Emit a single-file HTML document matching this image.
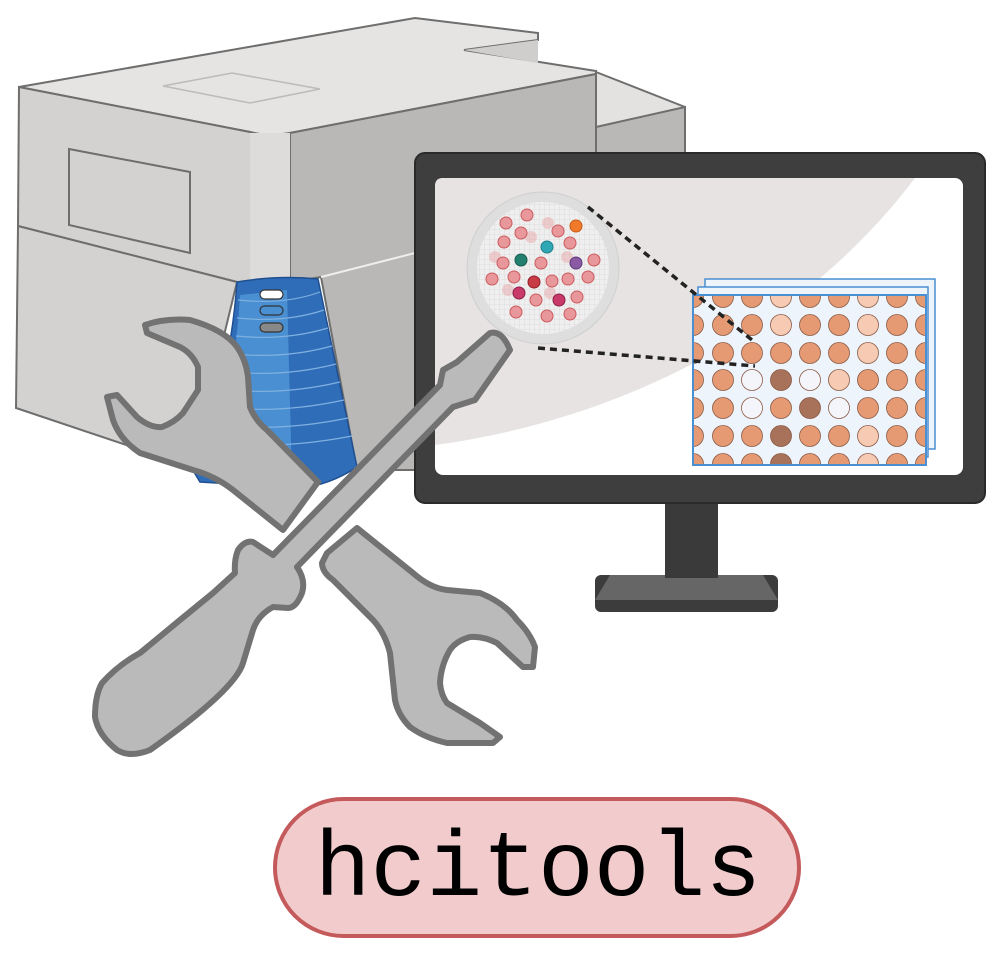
<!DOCTYPE html>
<html><head><meta charset="utf-8"><style>html,body{margin:0;padding:0;background:#fff}svg{display:block}</style></head>
<body>
<svg width="997" height="954" viewBox="0 0 997 954" xmlns="http://www.w3.org/2000/svg">
<!-- machine back block -->
<polygon points="596,72 685,107 685,153 596,127" fill="#e4e2e1" stroke="#6e6e6e" stroke-width="2"/>
<polygon points="596,127 685,107 685,470 596,470" fill="#b9b8b7" stroke="#6e6e6e" stroke-width="2"/>
<!-- top face -->
<path d="M19,87 L415,18 L538,33 L538,40 L464,50 L596,71 L596,74 L290,133 Q268,137 250,132 Z" fill="#e6e4e3" stroke="#6e6e6e" stroke-width="2"/>
<polygon points="464,50 538,40 538,63" fill="#d0cecd"/>
<polygon points="163,86 232,73 320,89 250,103" fill="none" stroke="#bdbbba" stroke-width="1.5"/>
<!-- right face -->
<path d="M290,133 L596,74 L596,470 L357,470 L321,277 L290,282 Z" fill="#b9b8b7" stroke="#6e6e6e" stroke-width="2"/>
<!-- left face -->
<path d="M19,87 L250,132 Q268,137 290,133 L290,282 L237,282 L18,226 Z" fill="#d4d2d1" stroke="#6e6e6e" stroke-width="2"/>
<rect x="250" y="133" width="40" height="148" fill="#dedcdb"/>
<path d="M18,226 L237,282 L192,467 L16,408 Z" fill="#d4d2d1" stroke="#6e6e6e" stroke-width="2"/>
<path d="M321,277 L415,253" stroke="#eee" stroke-width="2"/>
<polygon points="69,149 190,172 190,253 69,225" fill="#d4d2d1" stroke="#6e6e6e" stroke-width="2"/>
<!-- blue panel -->
<path d="M237,282 Q278,275 318,279 L357,467 Q330,485 300,488 L200,482 L194,472 Q230,380 237,282 Z" fill="#2f6db9" stroke="#1f4f8f" stroke-width="1.5"/>
<path d="M240,295 L287,290 L292,480 L205,476 Q235,390 240,295 Z" fill="#4a8fd2"/>
<g stroke="#7fb0e0" stroke-width="1.2" fill="none">
<path d="M238,300 Q285,305 320,292"/><path d="M237,318 Q285,323 324,310"/><path d="M236,336 Q285,341 328,328"/><path d="M234,354 Q285,359 332,346"/><path d="M232,372 Q285,377 336,364"/><path d="M230,390 Q285,395 340,382"/><path d="M228,408 Q285,413 344,400"/><path d="M226,426 Q285,431 348,418"/><path d="M222,444 Q285,449 352,436"/>
</g>
<rect x="260" y="290" width="23" height="9" rx="4.5" fill="#fff" stroke="#333" stroke-width="1.2"/>
<rect x="260" y="306" width="23" height="9" rx="4.5" fill="#4a8fd2" stroke="#333" stroke-width="1.2"/>
<rect x="260" y="323" width="23" height="9" rx="4.5" fill="#888" stroke="#333" stroke-width="1.2"/>
<!-- monitor -->
<rect x="595" y="575" width="183" height="37" rx="6" fill="#3c3c3c"/>
<polygon points="610,575 763,575 778,600 595,600" fill="#666"/>
<rect x="665" y="498" width="53" height="80" fill="#3a3a3a"/>
<rect x="415" y="153" width="570" height="350" rx="10" fill="#3e3e3e" stroke="#2a2a2a" stroke-width="2"/>
<rect x="435" y="178" width="528" height="297" rx="8" fill="#fff"/>
<path d="M443,178 H915 C800,330 620,420 435,445 V186 Q435,178 443,178 Z" fill="#e6e3e2"/>
<!-- petri dish -->
<defs>
<pattern id="g" width="5" height="5" patternUnits="userSpaceOnUse"><path d="M5,0 V5 H0" fill="none" stroke="#cfcfcf" stroke-width="0.6"/></pattern>
</defs>
<circle cx="543" cy="268" r="76" fill="#dededf" stroke="#cfcfd0"/>
<circle cx="543" cy="268" r="66" fill="#efefef"/>
<circle cx="543" cy="268" r="66" fill="url(#g)"/>
<g fill="#e8a0a2" opacity="0.45">
<circle cx="548" cy="223" r="6"/><circle cx="531" cy="237" r="6"/><circle cx="495" cy="257" r="6"/><circle cx="567" cy="257" r="6"/><circle cx="508" cy="290" r="6"/><circle cx="550" cy="293" r="6"/>
</g>
<g fill="#e8989a" stroke="#cc5a5f" stroke-width="1">
<circle cx="527" cy="215" r="6"/><circle cx="506" cy="223" r="6"/><circle cx="521" cy="233" r="6"/><circle cx="558" cy="231" r="6"/><circle cx="504" cy="242" r="6"/><circle cx="570" cy="243" r="6"/><circle cx="503" cy="263" r="6"/><circle cx="541" cy="263" r="6"/><circle cx="594" cy="260" r="6"/><circle cx="492" cy="279" r="6"/><circle cx="514" cy="277" r="6"/><circle cx="552" cy="281" r="6"/><circle cx="568" cy="279" r="6"/><circle cx="588" cy="277" r="6"/><circle cx="536" cy="300" r="6"/><circle cx="577" cy="297" r="6"/><circle cx="516" cy="312" r="6"/><circle cx="547" cy="316" r="6"/><circle cx="570" cy="314" r="6"/>
</g>
<circle cx="576" cy="226" r="6" fill="#f07a2a" stroke="#c95a15"/>
<circle cx="547" cy="247" r="6" fill="#2fa7b5" stroke="#1e7f8a"/>
<circle cx="521" cy="260" r="6" fill="#24806e" stroke="#175a4d"/>
<circle cx="576" cy="263" r="6" fill="#8a5aa5" stroke="#603a7a"/>
<circle cx="534" cy="282" r="6" fill="#c83c45" stroke="#902028"/>
<circle cx="519" cy="293" r="6" fill="#c83a6a" stroke="#8e2048"/>
<circle cx="559" cy="300" r="6" fill="#c83a6a" stroke="#8e2048"/>
<!-- plates -->
<rect x="705" y="279" width="230" height="170" fill="#eef4fb" stroke="#4a8fd2" stroke-width="1.5"/>
<rect x="698" y="287" width="230" height="170" fill="#eef4fb" stroke="#4a8fd2" stroke-width="1.5"/>
<svg x="693" y="295" width="233" height="170" overflow="hidden">
<rect x="0" y="0" width="233" height="170" fill="#eef4fb"/>
<g stroke="#8a5a45" stroke-width="0.8" id="cells">
</g>
<g stroke="#8a5a45" stroke-width="0.8">
<!-- generated rows -->
<g fill="#e59a73">
<circle cx="0" cy="2" r="10.5"/><circle cx="30" cy="2" r="10.5"/><circle cx="59" cy="2" r="10.5"/><circle cx="117" cy="2" r="10.5"/><circle cx="146" cy="2" r="10.5"/><circle cx="204" cy="2" r="10.5"/><circle cx="233" cy="2" r="10.5"/>
<circle cx="0" cy="30" r="10.5"/><circle cx="30" cy="30" r="10.5"/><circle cx="59" cy="30" r="10.5"/><circle cx="117" cy="30" r="10.5"/><circle cx="146" cy="30" r="10.5"/><circle cx="204" cy="30" r="10.5"/><circle cx="233" cy="30" r="10.5"/>
<circle cx="0" cy="58" r="10.5"/><circle cx="30" cy="58" r="10.5"/><circle cx="59" cy="58" r="10.5"/><circle cx="88" cy="58" r="10.5"/><circle cx="117" cy="58" r="10.5"/><circle cx="146" cy="58" r="10.5"/><circle cx="204" cy="58" r="10.5"/><circle cx="233" cy="58" r="10.5"/>
<circle cx="0" cy="85" r="10.5"/><circle cx="30" cy="85" r="10.5"/><circle cx="175" cy="85" r="10.5"/><circle cx="204" cy="85" r="10.5"/><circle cx="233" cy="85" r="10.5"/>
<circle cx="0" cy="113" r="10.5"/><circle cx="30" cy="113" r="10.5"/><circle cx="88" cy="113" r="10.5"/><circle cx="175" cy="113" r="10.5"/><circle cx="204" cy="113" r="10.5"/><circle cx="233" cy="113" r="10.5"/>
<circle cx="0" cy="141" r="10.5"/><circle cx="30" cy="141" r="10.5"/><circle cx="59" cy="141" r="10.5"/><circle cx="117" cy="141" r="10.5"/><circle cx="146" cy="141" r="10.5"/><circle cx="204" cy="141" r="10.5"/><circle cx="233" cy="141" r="10.5"/>
<circle cx="0" cy="169" r="10.5"/><circle cx="30" cy="169" r="10.5"/><circle cx="59" cy="169" r="10.5"/><circle cx="117" cy="169" r="10.5"/><circle cx="146" cy="169" r="10.5"/><circle cx="204" cy="169" r="10.5"/><circle cx="233" cy="169" r="10.5"/>
</g>
<g fill="#f7cbb3">
<circle cx="88" cy="2" r="10.5"/><circle cx="175" cy="2" r="10.5"/><circle cx="88" cy="30" r="10.5"/><circle cx="175" cy="30" r="10.5"/><circle cx="175" cy="58" r="10.5"/><circle cx="146" cy="85" r="10.5"/><circle cx="175" cy="141" r="10.5"/><circle cx="175" cy="169" r="10.5"/>
</g>
<g fill="#f4f5fb">
<circle cx="59" cy="85" r="10.5"/><circle cx="117" cy="85" r="10.5"/><circle cx="59" cy="113" r="10.5"/><circle cx="146" cy="113" r="10.5"/>
</g>
<g fill="#a8715a">
<circle cx="88" cy="85" r="10.5"/><circle cx="117" cy="113" r="10.5"/><circle cx="88" cy="141" r="10.5"/><circle cx="88" cy="169" r="10.5"/>
</g>
</g>
</svg>
<rect x="693" y="295" width="233" height="170" fill="none" stroke="#4a8fd2" stroke-width="2"/>
<!-- dotted lines -->
<g stroke="#222" stroke-width="3.5" stroke-dasharray="7,5" fill="none">
<path d="M588,207 L752,340"/><path d="M538,348 L755,366"/>
</g>
<!-- tools -->
<g fill="#bababa" stroke="#727272" stroke-width="6" stroke-linejoin="round">
<path d="M145,325 Q165,318 190,320 Q225,330 237,347 Q246,360 248,377 L250,407 Q255,420 267,430 L318,482 L283,530 L233,490 Q215,476 193,470 L140,453 Q120,440 113,420 L107,397 L117,395 L137,417 Q150,428 162,427 Q175,422 183,413 L198,390 L198,367 Q192,353 180,347 L147,333 Z"/>
<path d="M327,553 L357,528 L413,573 Q430,588 447,590 L480,593 Q505,603 517,620 Q530,633 535,647 L533,667 L523,667 L497,643 Q483,636 470,637 Q456,641 450,650 Q441,665 440,683 Q441,695 447,703 L480,723 L500,737 L493,743 L447,743 Q425,738 410,727 Q398,715 395,700 L390,653 Q385,633 373,620 L333,580 Q322,572 322,563 Z"/>
<path d="M490,333 Q502,330 510,350 L475,400 L453,407 L297,567 Q306,580 302,593 Q296,608 288,608 L273,607 Q258,615 253,630 L243,663 Q235,690 150,750 Q130,758 117,750 Q98,735 95,717 Q95,695 102,683 Q118,665 140,653 L180,620 L213,593 L235,573 Q234,560 238,550 Q245,540 253,542 L273,555 L440,385 L443,370 L457,362 Z"/>
</g>
<!-- label -->
<rect x="275" y="799" width="524" height="137" rx="68.5" fill="#f2cccc" stroke="#c55a5c" stroke-width="4"/>
<text x="538" y="895" text-anchor="middle" font-family="Liberation Mono, monospace" font-size="93" fill="#000">hcitools</text>
</svg>
</body></html>
